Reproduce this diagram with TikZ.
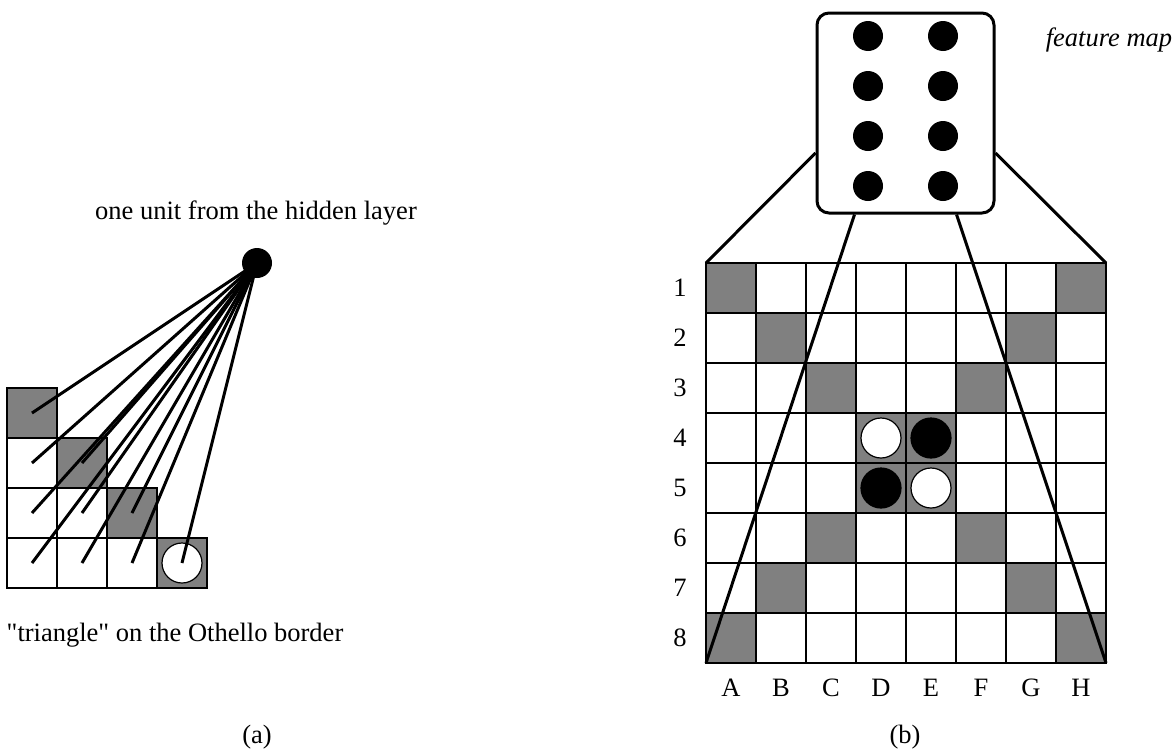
\documentclass[tikz,border=0pt]{standalone}
\usepackage{fontspec}
\setmainfont{Liberation Serif}[Ligatures=TeXOff]
\usetikzlibrary{positioning}

\begin{document}
\begin{tikzpicture}[x=1pt, y=-1pt,
cell/.style={draw, fill=white, minimum size=50pt, inner sep=0pt, outer sep=0pt, line width=1.3pt},
dark/.style={cell, fill=gray},
disc/.style={circle, draw, minimum size=40pt, inner sep=0pt, line width=1.2pt},
wdisc/.style={disc, fill=white},
bdisc/.style={disc, fill=black},
dot/.style={circle, fill=black, minimum size=30pt, inner sep=0pt},
conn/.style={line width=3pt},
lbl/.style={font=\fontsize{26.5}{30}\selectfont, inner sep=0pt}
]
\useasboundingbox (0,0) rectangle (1176,750);

% (a) triangle on the border
\foreach \r in {1,...,4} {
  \node[dark] (t-\r-\r) at ({32+50*(\r-1)},{413+50*(\r-1)}) {};
  \foreach \c in {1,...,\r} {
    \ifnum\c<\r \node[cell] (t-\r-\c) at ({32+50*(\c-1)},{413+50*(\r-1)}) {}; \fi
  }
}
\node[wdisc] (tdisc) at (t-4-4) {};
\node[dot] (unit) at (257,263) {};
\foreach \r in {1,...,4}
  \foreach \c in {1,...,\r}
    \draw[conn] (unit.center) -- (t-\r-\c.center);

\node[lbl] (unitlbl) at (256,213) {one unit from the hidden layer};
\node[lbl] (trilbl) at (175,635) {"triangle" on the Othello border};
\node[lbl] (capa) at (257,737) {(a)};

% (b) board and feature map
\foreach \r in {1,...,8}
  \foreach \c in {1,...,8} {
    \pgfmathtruncatemacro\anti{9-\r}
    \ifnum\c=\r \def\sty{dark}\else\ifnum\c=\anti \def\sty{dark}\else \def\sty{cell}\fi\fi
    \node[\sty] (b-\r-\c) at ({731+50*(\c-1)},{288+50*(\r-1)}) {};
  }
\node[wdisc] (d4) at (b-4-4) {};
\node[bdisc] (e4) at (b-4-5) {};
\node[bdisc] (d5) at (b-5-4) {};
\node[wdisc] (e5) at (b-5-5) {};

\foreach \r in {1,...,8}
  \node[lbl] (row-\r) at (680,{288+50*(\r-1)}) {\r};
\foreach \l [count=\c] in {A,B,C,D,E,F,G,H}
  \node[lbl] (col-\l) at ({731+50*(\c-1)},688) {\l};

\node[draw, rounded corners=12pt, minimum width=177pt, minimum height=200pt, line width=3pt] (fmap) at (905.5,113) {};
\foreach \x [count=\i] in {868,943}
  \foreach \y [count=\j] in {36,86,136,186}
    \node[dot] (f-\j-\i) at (\x,\y) {};
\node[lbl, font=\fontsize{26.5}{30}\selectfont\itshape] (fmlbl) at (1109,40) {feature map};

\draw[conn] ([yshift=-40pt]fmap.west) -- (b-1-1.north west);
\draw[conn] ([yshift=-40pt]fmap.east) -- (b-1-8.north east);
\draw[conn] ([xshift=-51pt]fmap.south) -- (b-8-1.south west);
\draw[conn] ([xshift=51pt]fmap.south) -- (b-8-8.south east);

\node[lbl] (capb) at (905,737) {(b)};
\end{tikzpicture}
\end{document}
